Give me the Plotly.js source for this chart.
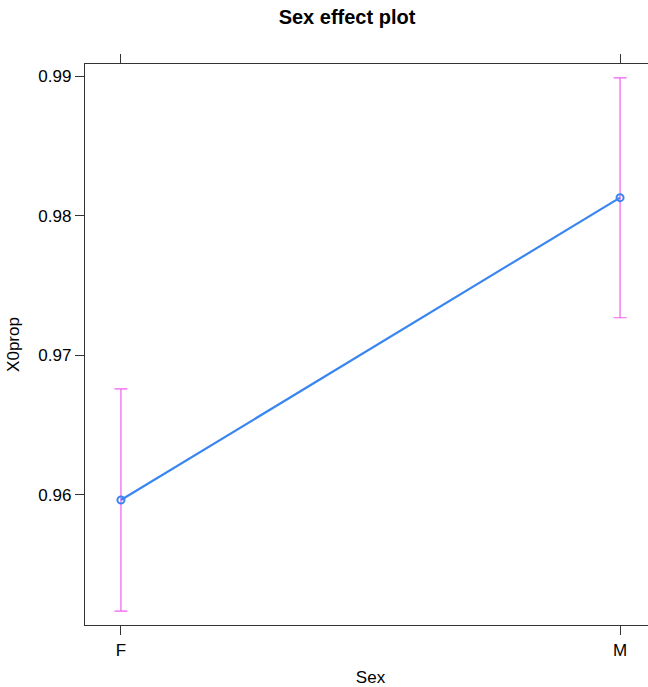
<!DOCTYPE html>
<html>
<head>
<meta charset="utf-8">
<script src="https://cdn.plot.ly/plotly-3.0.1.min.js"></script>
<style>
html, body { margin: 0; padding: 0; overflow: hidden; background: #fff; }
#chart { width: 662px; height: 687px; }
</style>
</head>
<body>
<div id="chart"></div>
<script>
const categories = ['F', 'M'];
const fitValues = [0.95964, 0.98129];
const upperValues = [0.96760, 0.98986];
const lowerValues = [0.95168, 0.97269];
const yTickVals = [0.96, 0.97, 0.98, 0.99];
const yTickText = ['0.96', '0.97', '0.98', '0.99'];

const errPlus = fitValues.map((v, i) => upperValues[i] - v);
const errMinus = fitValues.map((v, i) => v - lowerValues[i]);

const font = "'Liberation Sans', Arial, Helvetica, sans-serif";

const traces = [
  {
    x: categories,
    y: fitValues,
    type: 'scatter',
    mode: 'lines',
    line: { color: '#3a86f0', width: 2.2 },
    error_y: {
      type: 'data', symmetric: false,
      array: errPlus, arrayminus: errMinus,
      color: '#f25ef2', thickness: 1.2, width: 6.5
    },
    hoverinfo: 'skip',
    showlegend: false
  },
  {
    x: categories,
    y: fitValues,
    type: 'scatter',
    mode: 'markers',
    marker: { symbol: 'circle-open', size: 7, color: '#3a86f0', line: { width: 2, color: '#3a86f0' } },
    showlegend: false
  }
];

const layout = {
  width: 662,
  height: 687,
  paper_bgcolor: '#ffffff',
  plot_bgcolor: '#ffffff',
  margin: { l: 85, r: 6, t: 64, b: 62 },
  font: { family: font, size: 17, color: '#000' },
  title: {
    text: '<b>Sex effect plot</b>',
    font: { family: font, size: 20, color: '#000' },
    xref: 'container', x: 347 / 662, xanchor: 'center',
    yref: 'container', y: 1 - 17 / 687, yanchor: 'middle'
  },
  xaxis: {
    type: 'category',
    range: [-0.072, 1.072],
    showgrid: false, zeroline: false,
    showline: true, linecolor: '#333', linewidth: 1.2,
    mirror: 'ticks',
    ticks: 'outside', ticklen: 9, tickcolor: '#333', tickwidth: 1,
    tickfont: { family: font, size: 17, color: '#000' },
    title: { text: 'Sex', font: { family: font, size: 17, color: '#000' }, standoff: 12 }
  },
  yaxis: {
    range: [0.95069, 0.99086],
    showgrid: false, zeroline: false,
    showline: true, linecolor: '#333', linewidth: 1.2,
    mirror: true,
    ticks: 'outside', ticklen: 9, tickcolor: '#333', tickwidth: 1,
    tickvals: yTickVals, ticktext: yTickText,
    tickfont: { family: font, size: 17, color: '#000' },
    title: { text: 'X0prop', font: { family: font, size: 17, color: '#000' }, standoff: 14 }
  }
};

Plotly.newPlot('chart', traces, layout, { displayModeBar: false, staticPlot: true });
</script>
</body>
</html>
